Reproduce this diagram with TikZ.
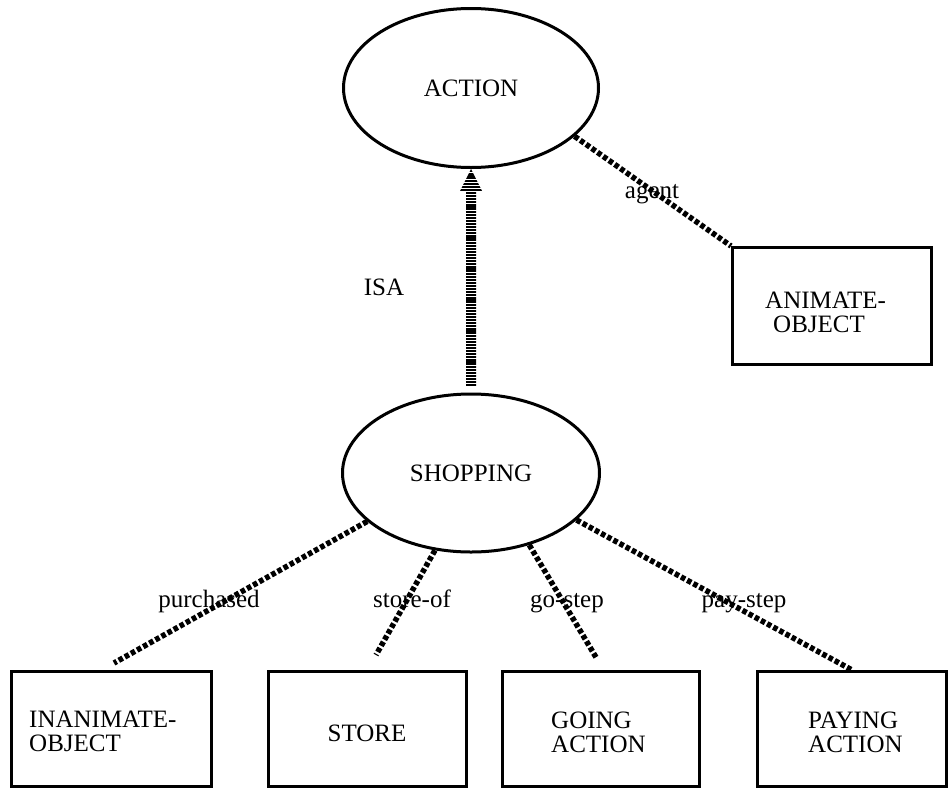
\documentclass[tikz,border=0pt]{standalone}
\usepackage{fontspec}
\setmainfont{Liberation Serif}
\usetikzlibrary{shapes.geometric,calc}

\tikzset{
  concept/.style={ellipse, draw, line width=3pt, inner sep=0pt},
  frame/.style={rectangle, draw, line width=3pt, inner sep=0pt, minimum height=115pt},
  boxtext/.style={align=left, inner sep=0pt, anchor=west},
  rel/.style={line width=5.5pt, dash pattern=on 4.6pt off 2.4pt},
  rellabel/.style={inner sep=0pt, anchor=base},
  isaline/.style={line width=26pt, dash pattern=on 2.2pt off 0.9pt}
}

\begin{document}
\begin{tikzpicture}[x=1pt, y=-1pt, font=\fontsize{25}{24}\selectfont]
  \useasboundingbox (0,0) rectangle (950,790);
  \fill[white] (0,0) rectangle (950,790);

  % concept ellipses
  \node[concept, minimum width=255pt, minimum height=159pt] (action) at (471,88) {ACTION};
  \node[concept, minimum width=257pt, minimum height=158pt] (shop) at (471,473) {SHOPPING};

  % filler boxes
  \node[frame, minimum width=199pt, minimum height=117pt] (animate) at (832,306) {};
  \node[frame, minimum width=200pt] (inan)  at (111.5,729) {};
  \node[frame, minimum width=198pt] (store) at (367.5,729) {};
  \node[frame, minimum width=197pt] (going) at (601,729) {};
  \node[frame, minimum width=189pt] (pay)   at (852,729) {};

  % box captions
  \node[boxtext] (animateT) at (765,312) {ANIMATE-\\\hspace*{8pt}OBJECT};
  \node[boxtext] (inanT)    at (29,731)  {INANIMATE-\\OBJECT};
  \node[inner sep=0pt] (storeT) at (367,733) {STORE};
  \node[boxtext] (goingT)   at (551,732) {GOING\\ACTION};
  \node[boxtext] (payT)     at (808,732) {PAYING\\ACTION};

  % relation labels
  \node[rellabel] (isaL)   at (384,295) {ISA};
  \node[rellabel] (agentL) at (652,198) {agent};
  \node[rellabel] (purL)   at (209,607) {purchased};
  \node[rellabel] (stoL)   at (412,607) {store-of};
  \node[rellabel] (goL)    at (567,607) {go-step};
  \node[rellabel] (payL)   at (744,607) {pay-step};

  % free ends of the slot links
  \coordinate (purEnd) at (114,663);
  \coordinate (stoEnd) at (376,655);
  \coordinate (goEnd)  at (597,659);

  % slot links
  \draw[rel] (action.-25) -- (animate.north west);
  \draw[rel] (shop.205.5) -- (purEnd);
  \draw[rel] (shop.245.8) -- (stoEnd);
  \draw[rel] (shop.309.6) -- (goEnd);
  \draw[rel] (shop.336.6) -- (pay.north);

  % hatched ISA arrow
  \begin{scope}
    \clip ($(shop.north)+(-5,-6)$) -- ($(action.south)+(-5,22)$)
      -- ($(action.south)+(-11,22)$) -- (action.south)
      -- ($(action.south)+(11,22)$) -- ($(action.south)+(5,22)$)
      -- ($(shop.north)+(5,-6)$) -- cycle;
    \draw[isaline] (shop.north) -- (action.south);
  \end{scope}
\end{tikzpicture}
\end{document}
